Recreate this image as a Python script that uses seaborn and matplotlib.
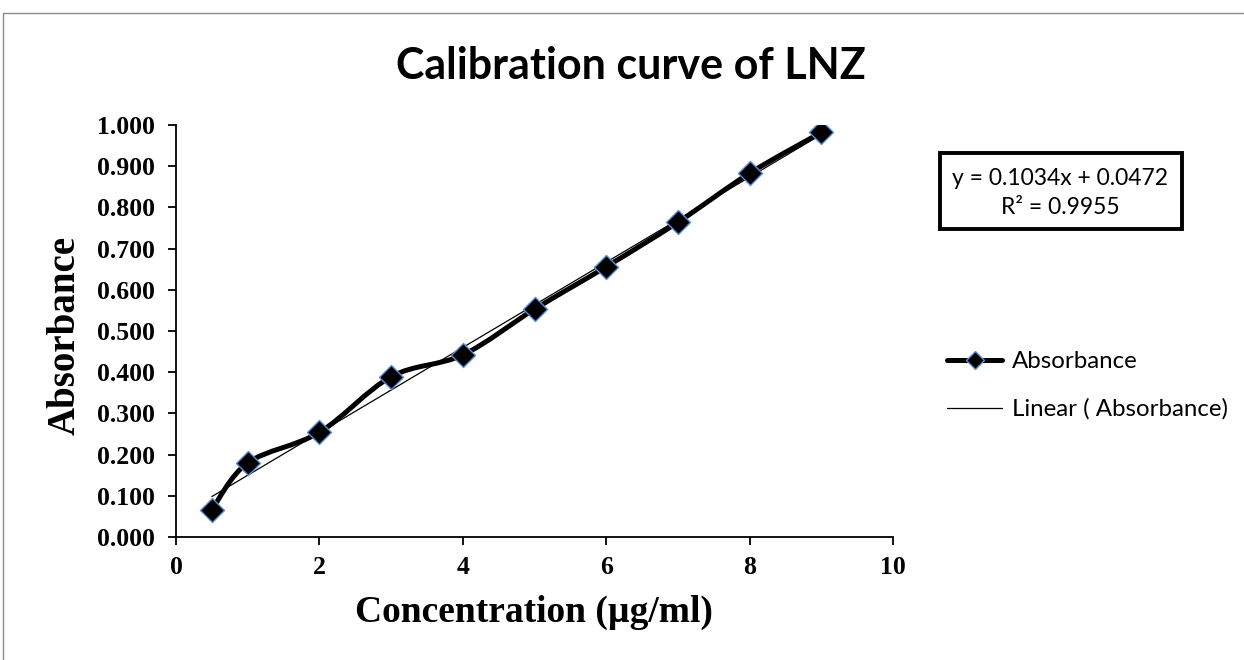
import numpy as np
import pandas as pd
import seaborn as sns
import matplotlib
matplotlib.use('Agg')
import matplotlib.pyplot as plt
from matplotlib.path import Path
from matplotlib.patches import PathPatch, Rectangle
from matplotlib.lines import Line2D

# data
conc = [0.5, 1, 2, 3, 4, 5, 6, 7, 8, 9]
absorb = [0.066, 0.180, 0.254, 0.389, 0.442, 0.553, 0.656, 0.764, 0.883, 0.982]
slope = 0.1034
intercept = 0.0472
r2 = 0.9955
x_ticks = [0, 2, 4, 6, 8, 10]
y_ticks = [0.0, 0.1, 0.2, 0.3, 0.4, 0.5, 0.6, 0.7, 0.8, 0.9, 1.0]

df = pd.DataFrame({'conc': conc, 'absorb': absorb})

sns.set_theme(style='white')
plt.rcParams['font.family'] = ['Liberation Serif', 'DejaVu Serif']
plt.rcParams['text.color'] = 'black'
plt.rcParams['axes.labelcolor'] = 'black'
plt.rcParams['xtick.color'] = 'black'
plt.rcParams['ytick.color'] = 'black'

fig = plt.figure(figsize=(12.44, 6.60), dpi=100)
ax = fig.add_axes([176 / 1244, 1 - 537 / 660, 717 / 1244, 412 / 660])

# smoothed line (Excel style) - catmull-rom as bezier segments
pts = df[['conc', 'absorb']].to_numpy()
ext = np.vstack([pts[0], pts, pts[-1]])
verts = [tuple(pts[0])]
codes = [Path.MOVETO]
for i in range(1, len(ext) - 2):
    p0, p1, p2, p3 = ext[i - 1], ext[i], ext[i + 1], ext[i + 2]
    c1 = p1 + (p2 - p0) / 6
    c2 = p2 - (p3 - p1) / 6
    verts += [tuple(c1), tuple(c2), tuple(p2)]
    codes += [Path.CURVE4] * 3
ax.add_patch(PathPatch(Path(verts, codes), facecolor='none', edgecolor='black', lw=3.6, zorder=2))

# linear trendline
sns.regplot(data=df, x='conc', y='absorb', ax=ax, scatter=False, ci=None,
            color='black', line_kws={'lw': 0.9, 'zorder': 1})

sns.scatterplot(data=df, x='conc', y='absorb', ax=ax, marker='D', s=150,
                color='black', edgecolor='#5b8fd6', linewidth=1.0, zorder=3)

ax.set_xlim(0, 10)
ax.set_ylim(0, 1)
ax.set_xticks(x_ticks)
ax.set_yticks(y_ticks)
ax.set_yticklabels([f'{v:.3f}' for v in y_ticks])
ax.set_xlabel('')
ax.set_ylabel('')
for s in ['top', 'right']:
    ax.spines[s].set_visible(False)
for s in ['left', 'bottom']:
    ax.spines[s].set_color('black')
    ax.spines[s].set_linewidth(1.3)
ax.tick_params(axis='both', direction='out', length=6, width=1.3, color='black',
               labelsize=18.5, labelcolor='black', left=True, bottom=True)
ax.tick_params(axis='y', pad=9)
ax.tick_params(axis='x', pad=8)
for lab in ax.get_xticklabels() + ax.get_yticklabels():
    lab.set_fontweight('bold')
ax.set_facecolor('white')

fig.text(65 / 1244, 1 - 335 / 660, 'Absorbance', rotation=90, ha='center', va='center',
         fontsize=28, fontweight='bold')
fig.text(534 / 1244, 1 - 612 / 660, 'Concentration (µg/ml)', ha='center', va='center',
         fontsize=27, fontweight='bold')
fig.text(631 / 1244, 1 - 66 / 660, 'Calibration curve of LNZ', ha='center', va='center',
         fontsize=31, fontweight='bold', family=['Lato', 'DejaVu Sans'])

# equation box
fig.patches.append(Rectangle((940 / 1244, 1 - 229 / 660), 242 / 1244, 76 / 660,
                             transform=fig.transFigure, facecolor='white',
                             edgecolor='black', lw=2.8))
fig.text(1060 / 1244, 1 - 178 / 660, f'y = {slope}x + {intercept}', ha='center', va='center',
         fontsize=16.5, family=['Lato', 'DejaVu Sans'])
fig.text(1060 / 1244, 1 - 208 / 660, f'R² = {r2}', ha='center', va='center',
         fontsize=16.5, family=['Lato', 'DejaVu Sans'])

# legend
handles = [Line2D([], [], color='black', lw=3.6, marker='D', markersize=9,
                  markerfacecolor='black', markeredgecolor='#5b8fd6'),
           Line2D([], [], color='black', lw=0.9)]
leg = fig.legend(handles, ['Absorbance', 'Linear ( Absorbance)'], loc='upper left',
                 bbox_to_anchor=(947 / 1244, 1 - 351 / 660), frameon=False,
                 prop={'family': ['Lato', 'DejaVu Sans'], 'size': 17.3},
                 handlelength=2.3, handletextpad=0.4, labelspacing=1.1,
                 borderpad=0, borderaxespad=0)

# chart area border
fig.patches.append(Rectangle((3 / 1244, -0.05), 1.1, 1 - 13 / 660 + 0.05,
                             transform=fig.transFigure, facecolor='none',
                             edgecolor='#8c8c8c', lw=1.0))

fig.savefig('out.png', dpi=100, facecolor='white')
